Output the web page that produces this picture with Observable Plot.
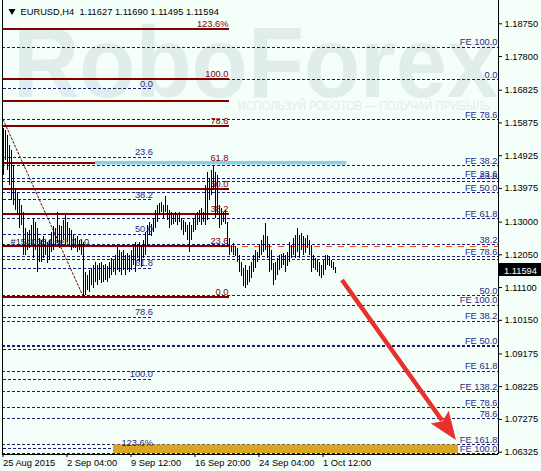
<!DOCTYPE html>
<html><head><meta charset="utf-8">
<script src="https://cdn.jsdelivr.net/npm/d3@7"></script>
<script src="https://cdn.jsdelivr.net/npm/@observablehq/plot@0.6"></script>
<style>
html,body{margin:0;padding:0;background:#F4FFFA;}
#chart svg{display:block;}
</style></head><body><div id="chart"></div>
<script>
// ---- OHLC bars (EURUSD H4), one entry per bar ----
const barHigh = [
1.1571,1.1566,1.1551,1.1522,1.1508,1.1464,1.1397,1.1386,1.1363,1.1348,
1.1328,1.1281,1.1270,1.1276,1.1290,1.1310,1.1299,1.1281,1.1252,1.1247,
1.1258,1.1247,1.1241,1.1247,1.1270,1.1287,1.1281,1.1328,1.1290,1.1287,
1.1305,1.1319,1.1299,1.1281,1.1276,1.1261,1.1252,1.1258,1.1247,1.1247,
1.1241,1.1154,1.1145,1.1160,1.1165,1.1174,1.1183,1.1174,1.1180,1.1183,
1.1174,1.1177,1.1171,1.1183,1.1194,1.1189,1.1203,1.1226,1.1218,1.1212,
1.1218,1.1203,1.1209,1.1203,1.1218,1.1232,1.1241,1.1235,1.1241,1.1232,
1.1247,1.1270,1.1290,1.1299,1.1293,1.1310,1.1334,1.1348,1.1354,1.1357,
1.1348,1.1374,1.1348,1.1334,1.1328,1.1325,1.1328,1.1322,1.1328,1.1310,
1.1305,1.1299,1.1290,1.1299,1.1290,1.1310,1.1319,1.1328,1.1334,1.1339,
1.1328,1.1406,1.1444,1.1426,1.1450,1.1461,1.1444,1.1435,1.1348,1.1339,
1.1328,1.1334,1.1299,1.1252,1.1232,1.1238,1.1229,1.1223,1.1203,1.1183,
1.1165,1.1174,1.1160,1.1171,1.1183,1.1203,1.1218,1.1212,1.1232,1.1247,
1.1261,1.1296,1.1258,1.1232,1.1218,1.1180,1.1183,1.1194,1.1203,1.1206,
1.1209,1.1203,1.1212,1.1241,1.1232,1.1252,1.1261,1.1281,1.1261,1.1267,
1.1258,1.1252,1.1261,1.1247,1.1232,1.1203,1.1194,1.1189,1.1183,1.1174,
1.1189,1.1203,1.1203,1.1197,1.1189,1.1183,1.11690];
const barLow = [
1.1435,1.1479,1.1450,1.1406,1.1363,1.1348,1.1334,1.1319,1.1281,1.1290,
1.1203,1.1203,1.1218,1.1223,1.1232,1.1194,1.1218,1.1154,1.1183,1.1183,
1.1194,1.1203,1.1180,1.1189,1.1212,1.1218,1.1232,1.1238,1.1223,1.1229,
1.1247,1.1232,1.1241,1.1232,1.1218,1.1223,1.1223,1.1212,1.1218,1.1203,
1.1081,1.1087,1.1102,1.1096,1.1116,1.1107,1.1125,1.1116,1.1131,1.1122,
1.1125,1.1131,1.1125,1.1136,1.1145,1.1154,1.1145,1.1160,1.1154,1.1145,
1.1160,1.1145,1.1160,1.1154,1.1160,1.1174,1.1154,1.1194,1.1183,1.1168,
1.1194,1.1203,1.1232,1.1261,1.1258,1.1270,1.1281,1.1299,1.1319,1.1328,
1.1310,1.1328,1.1305,1.1281,1.1290,1.1293,1.1299,1.1290,1.1299,1.1276,
1.1261,1.1270,1.1247,1.1212,1.1247,1.1270,1.1276,1.1290,1.1299,1.1290,
1.1299,1.1290,1.1305,1.1363,1.1377,1.1392,1.1310,1.1319,1.1281,1.1290,
1.1299,1.1293,1.1232,1.1203,1.1212,1.1203,1.1200,1.1183,1.1154,1.1142,
1.1113,1.1107,1.1116,1.1125,1.1136,1.1154,1.1165,1.1183,1.1194,1.1203,
1.1212,1.1218,1.1194,1.1154,1.1160,1.1116,1.1131,1.1145,1.1160,1.1165,
1.1174,1.1154,1.1171,1.1183,1.1194,1.1203,1.1194,1.1212,1.1194,1.1218,
1.1203,1.1209,1.1223,1.1203,1.1154,1.1165,1.1160,1.1154,1.1142,1.1136,
1.1145,1.1160,1.1174,1.1171,1.1165,1.1160,1.11495];
const lastOHLC = ["1.11627", "1.11690", "1.11495", "1.11594"];
const lastClose = 1.11594;

// ---- axes ----
const timeTickBars = [0, 32, 64, 96, 128, 160];
const timeTickLabels = ["25 Aug 2015", "2 Sep 04:00", "9 Sep 12:00", "16 Sep 20:00", "24 Sep 04:00", "1 Oct 12:00"];
const priceTicks = [1.18750, 1.17800, 1.16825, 1.15875, 1.14925, 1.13975, 1.13000, 1.12050, 1.11100, 1.10150, 1.09175, 1.08225, 1.07275, 1.06325];

// ---- Fibonacci retracement (solid dark red) ----
const redFiboPrices = [1.18605, 1.17135, 1.16517, 1.15780, 1.14707, 1.13965, 1.13239, 1.12311, 1.10821];
const redFiboLabels = ["123.6%", "100.0", "", "78.6", "61.8", "50.0", "38.2", "23.6", "0.0"];
const redFiboBars = [0, 113];

// ---- Fibonacci retracement (dashed, short) ----
const blueFiboPrices = [1.16865, 1.14875, 1.13646, 1.12648, 1.11653, 1.10238, 1.09304, 1.08434, 1.06444];
const blueFiboLabels = ["0.0", "23.6", "38.2", "50.0", "61.8", "78.6", "", "100.0", "123.6%"];
const blueFiboBars = [0, 75];

// ---- Fibonacci expansion / long levels (dashed, full width) ----
const feLinePrices = [1.18072, 1.17126, 1.15966, 1.14632, 1.14255, 1.14185, 1.13851, 1.13089, 1.12335, 1.11987, 1.11920, 1.10864, 1.10580, 1.10124, 1.09414, 1.09382, 1.08666, 1.08085, 1.07613, 1.07294, 1.06540, 1.06279];
const feLineLabels = ["FE 100.0", "0.0", "FE 78.6", "FE 38.2", "FE 23.6", "23.6", "FE 50.0", "FE 61.8", "38.2", "FE 78.6", "", "50.0", "FE 100.0", "FE 38.2", "FE 50.0", "", "FE 61.8", "FE 138.2", "FE 78.6", "78.6", "FE 161.8", "FE 100.0"];

// ---- order line ----
const orderPrice = 1.1231;
const orderLabel = "#1540354 sell 0.10";

// ---- zones, trend line and arrow ----
const blueZoneBars = [46, 171.7];
const blueZonePrices = [1.14655, 1.14756];
const goldZoneBars = [55, 227.5];
const goldZonePrices = [1.06287, 1.06534];
const trendBars = [-9.25, 40];
const trendPrices = [1.17135, 1.10821];
const arrowBars = [169.5, 226.5];
const arrowPrices = [1.11305, 1.06664];

const titleText = "EURUSD,H4  " + lastOHLC.join(" ");

// ---- tables built from the arrays ----
const bars = barHigh.map((h, i) => ({i, high: h, low: barLow[i]}));
const redFibo = redFiboPrices.map((p, k) => ({price: p, label: redFiboLabels[k]}));
const blueFibo = blueFiboPrices.map((p, k) => ({price: p, label: blueFiboLabels[k]}));
const feLines = feLinePrices.map((p, k) => ({price: p, label: feLineLabels[k]}));
const trend = trendBars.map((b, k) => ({bar: b, price: trendPrices[k]}));

const xDomain = [-0.5, 247.5];
const yDomain = [1.06258, 1.19426];

const NAVY = "#1c1c78";
const NAVY_TXT = "#2a2a8c";
const MAROON = "#800000";
const FONT = "'Liberation Sans', Arial, sans-serif";

const watermark = () => {
  const g = d3.create("svg:g").attr("fill", "#E1EDEB").attr("font-family", FONT).attr("text-anchor", "start");
  g.append("text").attr("x", 13).attr("y", 97).attr("font-size", 100).attr("font-weight", "bold")
    .attr("textLength", 485).attr("lengthAdjust", "spacingAndGlyphs").text("RoboForex");
  g.append("text").attr("x", 238).attr("y", 110).attr("font-size", 13.5)
    .attr("textLength", 252).attr("lengthAdjust", "spacingAndGlyphs").text("ИСПОЛЬЗУЙ РОБОТОВ — ПОЛУЧАЙ ПРИБЫЛЬ");
  return g.node();
};

const arrowMark = (index, scales) => {
  const x1 = scales.x(arrowBars[0]), y1 = scales.y(arrowPrices[0]);
  const x2 = scales.x(arrowBars[1]), y2 = scales.y(arrowPrices[1]);
  const dx = x2 - x1, dy = y2 - y1, L = Math.hypot(dx, dy);
  const ux = dx / L, uy = dy / L, px = -uy, py = ux;
  const head = 28, half = 11;
  const bx = x2 - ux * head, by = y2 - uy * head;
  const g = d3.create("svg:g");
  g.append("line").attr("x1", x1).attr("y1", y1).attr("x2", bx + ux * 4).attr("y2", by + uy * 4)
    .attr("stroke", "#E8312C").attr("stroke-width", 4.5);
  g.append("path").attr("d", `M${x2},${y2}L${bx + px * half},${by + py * half}L${bx + ux*5},${by + uy*5}L${bx - px * half},${by - py * half}Z`)
    .attr("fill", "#E8312C");
  return g.node();
};

const priceBox = (index, scales, values, dims) => {
  const y = scales.y(lastClose);
  const x0 = dims.width - dims.marginRight + 1;
  const g = d3.create("svg:g").attr("text-anchor", "start");
  g.append("rect").attr("x", x0).attr("y", Math.round(y) - 7).attr("width", dims.width - x0).attr("height", 13).attr("fill", "black");
  g.append("text").attr("x", x0 + 5).attr("y", Math.round(y) + 3.5).attr("fill", "white").attr("font-family", FONT)
    .attr("font-size", 9.3).text(lastClose.toFixed(5));
  return g.node();
};

const chart = Plot.plot({
  width: 541, height: 471,
  marginLeft: 2, marginRight: 43, marginTop: 0, marginBottom: 17,
  style: {fontFamily: FONT, fontSize: "9.3px", background: "transparent", color: "black"},
  x: {type: "linear", domain: xDomain, axis: null},
  y: {type: "linear", domain: yDomain, axis: null},
  marks: [
    watermark,
    Plot.ruleY(feLines, {y: "price", stroke: NAVY, strokeWidth: 1, strokeDasharray: "3,2", shapeRendering: "crispEdges"}),
    Plot.ruleY(blueFibo, {y: "price", x1: blueFiboBars[0], x2: blueFiboBars[1], stroke: NAVY, strokeWidth: 1, strokeDasharray: "3,2", shapeRendering: "crispEdges"}),
    Plot.ruleY([orderPrice], {stroke: "#F0501E", strokeWidth: 1, strokeDasharray: "6,6", dy: 1, shapeRendering: "crispEdges"}),
    Plot.line(trend, {x: "bar", y: "price", stroke: MAROON, strokeWidth: 1, strokeDasharray: "2,2", clip: true}),
    Plot.ruleY(redFibo, {y: "price", x1: redFiboBars[0], x2: redFiboBars[1], stroke: MAROON, strokeWidth: 2, shapeRendering: "crispEdges"}),
    Plot.rect([0], {x1: blueZoneBars[0], x2: blueZoneBars[1], y1: blueZonePrices[0], y2: blueZonePrices[1], fill: "#87CEEB"}),
    Plot.rect([0], {x1: goldZoneBars[0], x2: goldZoneBars[1], y1: goldZonePrices[0], y2: goldZonePrices[1], fill: "#DAA520"}),
    Plot.ruleX(bars, {x: "i", y1: "low", y2: "high", stroke: "black", strokeWidth: 1, shapeRendering: "crispEdges"}),
    Plot.text(feLines.filter(d => d.label), {y: "price", text: "label", frameAnchor: "right", textAnchor: "end", lineAnchor: "bottom", dx: -1, dy: -2, fill: NAVY_TXT}),
    Plot.text(blueFibo.filter(d => d.label), {y: "price", x: blueFiboBars[1], text: "label", textAnchor: "end", lineAnchor: "bottom", dx: -0.5, dy: -2, fill: NAVY_TXT}),
    Plot.text(redFibo.filter(d => d.label), {y: "price", x: redFiboBars[1], text: "label", textAnchor: "end", lineAnchor: "bottom", dx: -1, dy: -2, fill: MAROON}),
    Plot.text([orderLabel], {y: orderPrice, text: d => d, frameAnchor: "left", textAnchor: "start", lineAnchor: "bottom", dx: 8, dy: -1, fill: "#1a1a40"}),
    Plot.dot([0], {frameAnchor: "top-left", dx: 9.5, dy: 10.5, symbol: "triangle2", rotate: 180, r: 3.4, fill: "black", stroke: "none"}),
    Plot.text([titleText], {text: d => d, frameAnchor: "top-left", textAnchor: "start", lineAnchor: "bottom", dx: 18, dy: 14, fill: "black"}),
    arrowMark,
    Plot.ruleX([xDomain[0], xDomain[1]], {stroke: "black", strokeWidth: 1}),
    Plot.ruleY([yDomain[0]], {stroke: "black", strokeWidth: 1}),
    Plot.axisY(priceTicks, {anchor: "right", tickSize: 3, tickPadding: 3, tickFormat: d => d.toFixed(5), stroke: "black"}),
    Plot.axisX(timeTickBars, {anchor: "bottom", tickSize: 3, tickPadding: 2, textAnchor: "start", dx: -0.5, tickFormat: d => timeTickLabels[timeTickBars.indexOf(d)], stroke: "black"}),
    priceBox
  ]
});
document.getElementById("chart").appendChild(chart);
</script>
</body></html>
